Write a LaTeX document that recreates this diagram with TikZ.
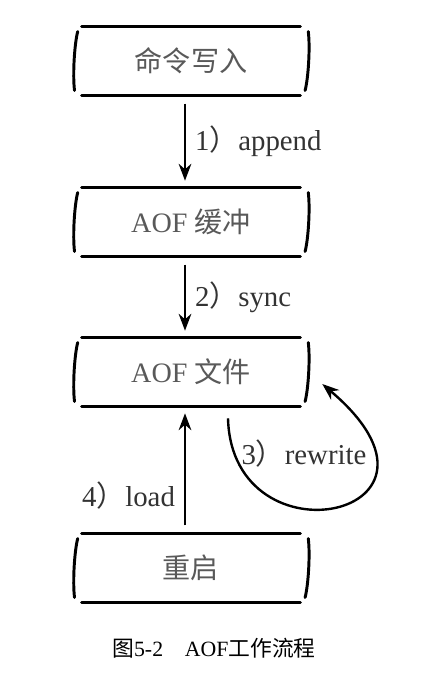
\documentclass[tikz,border=0pt]{standalone}
\usepackage{fontspec}
\setmainfont{Liberation Serif}
\newfontfamily\cjk{Noto Sans CJK SC}
\usetikzlibrary{arrows.meta}
\begin{document}
\begin{tikzpicture}[>={Stealth[length=12pt,width=9pt]},
  stagebox/.style={minimum width=5.45cm,minimum height=1.7cm,inner sep=0pt,
    text=black!65,font=\fontsize{20}{24}\selectfont},
  rim/.style={line width=2.1pt,line cap=round},
  flow/.style={->,line width=1.7pt,shorten <=6pt,shorten >=5pt},
  tag/.style={font=\fontsize{20.5}{24}\selectfont,text=black!80}]
\useasboundingbox (0,0) rectangle (10.6,-17.25);

\node[stagebox] (cmd)  at (4.775,-1.525) {\cjk 命令写入};
\node[stagebox] (buf)  at (4.775,-5.55)  {AOF {\cjk 缓冲}};
\node[stagebox] (aof)  at (4.775,-9.3)   {AOF {\cjk 文件}};
\node[stagebox] (boot) at (4.775,-14.2)  {\cjk 重启};

% sketchy frames
\foreach \n in {cmd,buf,aof,boot} {
  \draw[rim] (\n.north west) -- (\n.north east);
  \draw[rim] (\n.south west) -- (\n.south east);
  \draw[rim] ([xshift=-0.1cm,yshift=-0.12cm]\n.north west) .. controls +(-0.08,-0.3) and +(-0.05,0.4) .. ([xshift=-0.18cm,yshift=0.12cm]\n.south west);
  \draw[rim] ([xshift=0.2cm,yshift=-0.12cm]\n.north east) .. controls +(0.05,-0.4) and +(0.08,0.3) .. ([xshift=0.12cm,yshift=0.12cm]\n.south east);
}

\draw[flow] ([xshift=-0.15cm]cmd.south) -- node[tag,right=3pt] {1{\cjk ）}append} ([xshift=-0.15cm]buf.north);
\draw[flow] ([xshift=-0.15cm]buf.south) -- node[tag,right=3pt] {2{\cjk ）}sync} ([xshift=-0.15cm]aof.north);
\draw[flow] ([xshift=-0.15cm]boot.north) -- node[tag,left=3pt,pos=0.3] {4{\cjk ）}load} ([xshift=-0.15cm]aof.south);

% rewrite loop
\coordinate (loopstart) at ([xshift=0.925cm,yshift=-0.3cm]aof.south);
\coordinate (loopend) at ([xshift=0.55cm,yshift=-0.3cm]aof.east);
\draw[->,line width=1.7pt] (loopstart) .. controls +(0.1,-3.75) and +(3.9,-3.3) .. (loopend);
\node[tag] (rw) at (7.6,-11.35) {3{\cjk ）}rewrite};

\node[font=\fontsize{15.5}{18}\selectfont] (cap) at (5.35,-16.2) {{\cjk 图}5-2\quad AOF{\cjk 工作流程}};
\end{tikzpicture}
\end{document}
